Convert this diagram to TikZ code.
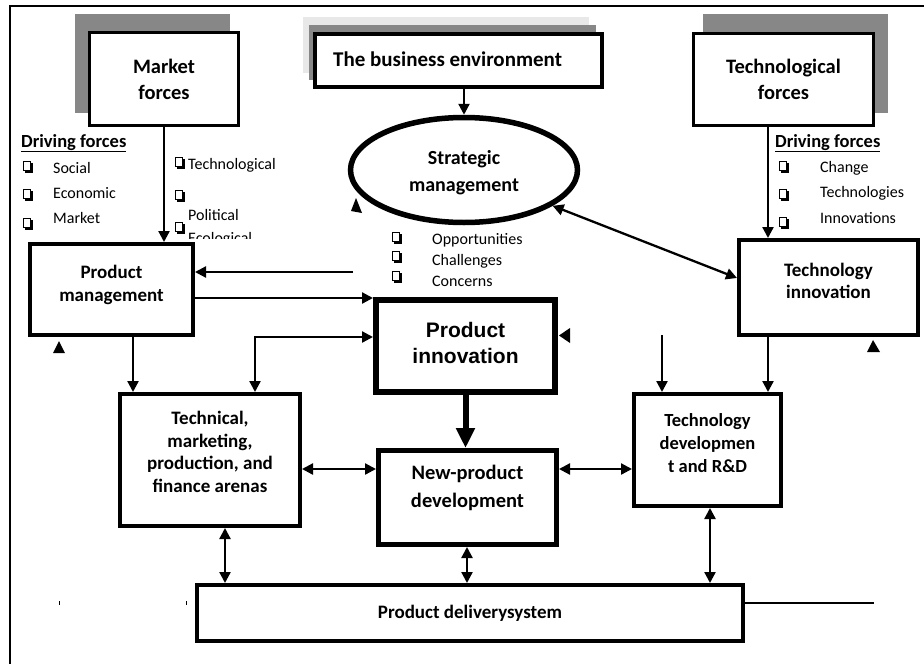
\documentclass[tikz,border=0pt]{standalone}
\usepackage{fontspec}
\setmainfont{Carlito}
\newfontfamily\arialfont{Liberation Sans}
\usetikzlibrary{arrows.meta,shapes.geometric,shadows}
\definecolor{shadowgray}{gray}{0.53}
\definecolor{paleshadow}{gray}{0.91}
\begin{document}
\begin{tikzpicture}[x=1pt,y=-1pt,
  main box/.style={draw,line width=4pt,fill=white,inner sep=0pt},
  force box/.style={draw,line width=3pt,fill=white,inner sep=0pt,align=center,font=\bfseries\fontsize{20.5}{26}\selectfont},
  box text/.style={align=center,inner sep=0pt,font=\bfseries\fontsize{19}{22.5}\selectfont},
  list text/.style={inner sep=0pt,anchor=base west,font=\fontsize{16}{20}\selectfont},
  list head/.style={inner sep=0pt,anchor=base west,font=\bfseries\fontsize{18.5}{22}\selectfont},
  chk/.style={draw,line width=1.1pt,fill=white,inner sep=0pt,minimum width=7.5pt,minimum height=9.5pt,
    drop shadow={shadow xshift=1.8pt,shadow yshift=-1.8pt,fill=black,opacity=1}},
  arr/.style={line width=2.3pt,-{Triangle[length=11pt,width=11pt]}},
  darr/.style={line width=2.3pt,{Triangle[length=11pt,width=11pt]}-{Triangle[length=11pt,width=11pt]}},
  big arr/.style={line width=6pt,-{Triangle[length=20pt,width=18pt]}}]
\useasboundingbox (0,0) rectangle (924,664);
\draw[line width=2.5pt] (10,664) -- (10,6) -- (924,6); % page frame
% shadows
\fill[shadowgray] (75,14) rectangle (230,113);
\fill[shadowgray] (703,14) rectangle (888,113);
\fill[paleshadow] (303,17) rectangle (589,73);
\fill[shadowgray] (309,25) rectangle (596,80);
% top boxes
\node[force box,minimum width=149pt,minimum height=93pt] (market) at (164,79) {Market\\forces};
\node[force box,minimum width=180pt,minimum height=92pt] (techforces) at (783.5,79.5) {Technological\\forces};
\node[main box,minimum width=287pt,minimum height=53pt] (business) at (458.5,60.5) {};
\node[inner sep=0pt,anchor=base west,font=\bfseries\fontsize{21}{26}\selectfont] (business text) at (333,66) {The business environment};
\node[ellipse,draw,line width=5.5pt,fill=white,inner sep=0pt,minimum width=227pt,minimum height=105pt] (strategic) at (464,170) {};
\node[box text,font=\bfseries\fontsize{20}{27}\selectfont] (strategic text) at (464,173) {Strategic\\management};
% main boxes
\node[main box,minimum width=163pt,minimum height=91pt] (prodmgmt) at (111.5,289.5) {};
\node[box text] (prodmgmt text) at (111.5,285) {Product\\management};
\node[main box,line width=6pt,minimum width=179pt,minimum height=92pt] (prodinno) at (465.5,346) {};
\node[box text,font=\arialfont\bfseries\fontsize{21}{26}\selectfont] (prodinno text) at (465.5,343) {Product\\innovation};
\node[main box,minimum width=179pt,minimum height=95pt] (techinno) at (828.5,287.5) {};
\node[box text] (techinno text) at (828.5,281) {Technology\\innovation};
\node[main box,minimum width=180pt,minimum height=132pt] (technical) at (210,460) {};
\node[box text] (technical text) at (210,452) {Technical,\\marketing,\\production, and\\finance arenas};
\node[main box,line width=5pt,minimum width=178pt,minimum height=94pt] (newprod) at (467.5,497.5) {};
\node[box text,font=\bfseries\fontsize{20.5}{28}\selectfont] (newprod text) at (467.5,488) {New-product\\development};
\node[main box,minimum width=147pt,minimum height=112pt] (techdev) at (707.5,450) {};
\node[box text,font=\bfseries\fontsize{18.5}{23}\selectfont] (techdev text) at (707.5,443) {Technology\\developmen\\t and R\&D};
\node[main box,minimum width=546pt,minimum height=56pt,font=\bfseries\fontsize{19}{22}\selectfont] (delivery) at (470,613) {Product deliverysystem};
% driving forces, left
\node[list head] (left head) at (21,147) {\underline{Driving forces}};
\node[chk] (left chk a) at (27,166) {};
\node[chk] (left chk b) at (27,194) {};
\node[chk] (left chk c) at (27,223) {};
\node[list text] (social) at (53,173) {Social};
\node[list text] (economic) at (53,198) {Economic};
\node[list text] (marketf) at (53,223) {Market};
\node[chk] (mid chk a) at (179,162) {};
\node[chk] (mid chk b) at (179,195) {};
\node[chk] (mid chk c) at (179,227) {};
\node[list text] (technological) at (188,169) {Technological};
\node[list text] (political) at (188,220) {Political};
\begin{scope}
\clip (150,200) rectangle (300,238);
\node[list text] (ecological) at (188,243) {Ecological};
\end{scope}
% driving forces, right
\node[list head] (right head) at (775,147) {\underline{Driving forces}};
\node[chk] (right chk a) at (783,166) {};
\node[chk] (right chk b) at (783,194) {};
\node[chk] (right chk c) at (783,222) {};
\node[list text] (change) at (820,172) {Change};
\node[list text] (technologies) at (820,197) {Technologies};
\node[list text] (innovations) at (820,223) {Innovations};
% strategic issues
\node[chk] (st chk a) at (396,237) {};
\node[chk] (st chk b) at (396,256) {};
\node[chk] (st chk c) at (396,276) {};
\node[list text] (opportunities) at (432,244) {Opportunities};
\node[list text] (challenges) at (432,265) {Challenges};
\node[list text] (concerns) at (432,286) {Concerns};
% helper rows and columns
\coordinate (row pm out) at (0,298);
\coordinate (row pi low) at (0,337);
\coordinate (row mid) at (0,469);
\coordinate (row line) at (0,603);
\coordinate (col pm) at (133,0);
\coordinate (col elbow) at (255,0);
\coordinate (col tech) at (225,0);
\coordinate (col np) at (467,0);
\coordinate (col td) at (710,0);
\coordinate (col ti) at (768,0);
\coordinate (pm feed) at (353,272);
\coordinate (td feed) at (662,335);
\coordinate (line end) at (874,603);
% connectors
\draw[arr] (market.south) -- (market.south |- prodmgmt.north);
\draw[arr] (strategic.north |- business.south) -- (strategic.north);
\draw[arr] (col ti |- techforces.south) -- (col ti |- techinno.north);
\draw[darr] (strategic.-22) -- ([yshift=9.5pt]techinno.west);
\draw[arr] (pm feed) -- (prodmgmt.east |- pm feed);
\draw[arr] (prodmgmt.east |- row pm out) -- (prodinno.west |- row pm out);
\draw[darr] (prodinno.west |- row pi low) -| (col elbow |- technical.north);
\draw[arr] (col pm |- prodmgmt.south) -- (col pm |- technical.north);
\draw[big arr] (prodinno.south) -- (prodinno.south |- newprod.north);
\draw[darr] (technical.east |- row mid) -- (newprod.west |- row mid);
\draw[darr] (newprod.east |- row mid) -- (techdev.west |- row mid);
\draw[arr] (col ti |- techinno.south) -- (col ti |- techdev.north);
\draw[arr] (td feed) -- (td feed |- techdev.north);
\draw[darr] (col tech |- technical.south) -- (col tech |- delivery.north);
\draw[darr] (col np |- newprod.south) -- (col np |- delivery.north);
\draw[darr] (col td |- techdev.south) -- (col td |- delivery.north);
\draw[line width=2.3pt] (delivery.east |- row line) -- (line end);
% stray arrowheads
\fill (53,353) -- (65,353) -- (59,341) -- cycle;
\fill (867,352) -- (880,352) -- (873,340) -- cycle;
\fill (570,328) -- (570,343) -- (559,335.5) -- cycle;
\fill (351,211) -- (362,213) -- (356,198) -- cycle;
\draw[line width=1pt] (59,601) -- (59,605);
\draw[line width=1pt] (186,601) -- (186,605);
\end{tikzpicture}
\end{document}
